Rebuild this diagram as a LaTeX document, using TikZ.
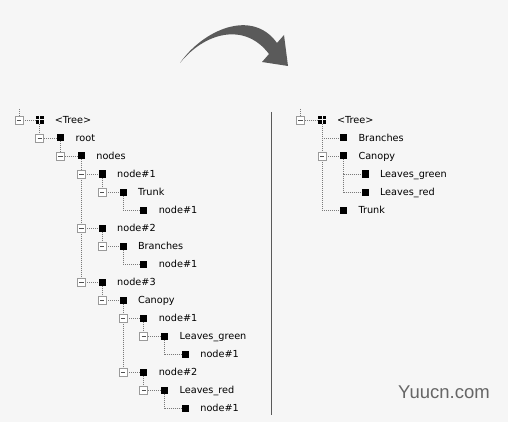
\documentclass[tikz,border=0pt]{standalone}
\usepackage{fontspec}
\setmainfont{DejaVu Sans}
\newfontfamily\wmfont{Liberation Sans}
\pgfdeclarelayer{bg}
\pgfdeclarelayer{lines}
\pgfsetlayers{bg,lines,main}
\definecolor{bgc}{HTML}{F6F6F6}
\definecolor{dotc}{HTML}{7A7A7A}
\definecolor{boxc}{HTML}{9A9A9A}
\definecolor{minusc}{HTML}{505050}
\definecolor{arrowc}{HTML}{5A5A5A}
\definecolor{sepc}{HTML}{5A5A5A}
\definecolor{wmc}{HTML}{666666}
\tikzset{
  dot/.style={draw=dotc, line width=0.75pt, dash pattern=on 1pt off 1pt},
  sq/.style={fill=black, minimum size=7pt, inner sep=0pt, outer sep=0pt},
  quad/.style={minimum size=8pt, inner sep=0pt, outer sep=0pt,
    path picture={
      \fill[black] ([shift={(-4pt,-4pt)}]path picture bounding box.center) rectangle ++(3.5pt,3.5pt);
      \fill[black] ([shift={(0.5pt,-4pt)}]path picture bounding box.center) rectangle ++(3.5pt,3.5pt);
      \fill[black] ([shift={(-4pt,0.5pt)}]path picture bounding box.center) rectangle ++(3.5pt,3.5pt);
      \fill[black] ([shift={(0.5pt,0.5pt)}]path picture bounding box.center) rectangle ++(3.5pt,3.5pt);
    }},
  pbox/.style={draw=boxc, fill=white, minimum size=8pt, inner sep=0pt, outer sep=0pt, line width=0.8pt,
    path picture={\draw[minusc,line width=0.9pt] ([xshift=-2.2pt]path picture bounding box.center) -- ([xshift=2.2pt]path picture bounding box.center);}},
  lbl/.style={font=\fontsize{9.7}{11}\selectfont, inner sep=0pt, anchor=base west, text=black},
}
% #1 name, #2 box x, #3 row y, #4 indent, #5 has box (1/0), #6 icon style, #7 text
\newcommand\titem[7]{%
  \pgfmathsetmacro\ixv{#2+#4}%
  \coordinate (#1c) at (#2,#3);
  \node[#6] (#1i) at (\ixv,#3) {};
  \node[lbl] (#1t) at (\ixv+14.8,#3+3.8) {#7};
  \ifnum#5=1
    \node[pbox] (#1b) at (#1c) {};
    \begin{pgfonlayer}{lines}\draw[dot] (#1b.east) -- (#1i.west);\end{pgfonlayer}
  \else
    \begin{pgfonlayer}{lines}\draw[dot] (#1c) -- (#1i.west);\end{pgfonlayer}
  \fi}
\newcommand\vlink[2]{%
  \begin{pgfonlayer}{lines}\draw[dot] (#1i.south) -- (#1i.south |- #2c);\end{pgfonlayer}}
\begin{document}
\begin{tikzpicture}[x=1pt,y=-1pt]
\begin{pgfonlayer}{bg}
  \fill[bgc] (0,0) rectangle (508,422);
\end{pgfonlayer}
\useasboundingbox (0,0) rectangle (508,422);

% curved arrow
\fill[arrowc] (180,63) .. controls (203,30) and (252,8) .. (277,43) -- (284,35) -- (288,66) -- (262,62) -- (269,54) .. controls (245,22) and (205,32) .. (180,63) -- cycle;

% separator
\coordinate (s1) at (271,112);
\coordinate (s2) at (271,415);
\draw[sepc, line width=1pt] (s1) -- (s2);

% left tree
\titem{A}{19}{120}{20.8}{1}{quad}{<Tree>}
\titem{B}{39.8}{138}{20.8}{1}{sq}{root}
\titem{C}{60.6}{156}{20.8}{1}{sq}{nodes}
\titem{D}{81.4}{174}{20.8}{1}{sq}{node\#1}
\titem{E}{102.2}{192}{20.8}{1}{sq}{Trunk}
\titem{F}{123}{210}{20.8}{0}{sq}{node\#1}
\titem{G}{81.4}{228}{20.8}{1}{sq}{node\#2}
\titem{H}{102.2}{246}{20.8}{1}{sq}{Branches}
\titem{I}{123}{264}{20.8}{0}{sq}{node\#1}
\titem{J}{81.4}{282}{20.8}{1}{sq}{node\#3}
\titem{K}{102.2}{300}{20.8}{1}{sq}{Canopy}
\titem{L}{123}{318}{20.8}{1}{sq}{node\#1}
\titem{M}{143.8}{336}{20.8}{1}{sq}{Leaves\_green}
\titem{N}{164.6}{354}{20.8}{0}{sq}{node\#1}
\titem{O}{123}{372}{20.8}{1}{sq}{node\#2}
\titem{P}{143.8}{390}{20.8}{1}{sq}{Leaves\_red}
\titem{Q}{164.6}{408}{20.8}{0}{sq}{node\#1}

\coordinate (Atop) at (19,109);
\begin{pgfonlayer}{lines}\draw[dot] (Atop) -- (Ab.north);\end{pgfonlayer}
\vlink{A}{B}
\vlink{B}{C}
\vlink{C}{J}
\vlink{D}{E}
\vlink{E}{F}
\vlink{G}{H}
\vlink{H}{I}
\vlink{J}{K}
\vlink{K}{O}
\vlink{L}{M}
\vlink{M}{N}
\vlink{O}{P}
\vlink{P}{Q}

% right tree
\titem{RA}{300.5}{120}{21.5}{1}{quad}{<Tree>}
\titem{RB}{322}{138}{21.5}{0}{sq}{Branches}
\titem{RC}{322}{156}{21.5}{1}{sq}{Canopy}
\titem{RD}{343.5}{174}{21.5}{0}{sq}{Leaves\_green}
\titem{RE}{343.5}{192}{21.5}{0}{sq}{Leaves\_red}
\titem{RF}{322}{210}{21.5}{0}{sq}{Trunk}

\coordinate (RAtop) at (300.5,109);
\begin{pgfonlayer}{lines}\draw[dot] (RAtop) -- (RAb.north);\end{pgfonlayer}
\vlink{RA}{RF}
\vlink{RC}{RE}

% watermark
\node[font=\wmfont\fontsize{18.5}{20}\selectfont, text=wmc, anchor=base west, inner sep=0pt] (wm) at (398,398) {Yuucn.com};
\end{tikzpicture}
\end{document}
